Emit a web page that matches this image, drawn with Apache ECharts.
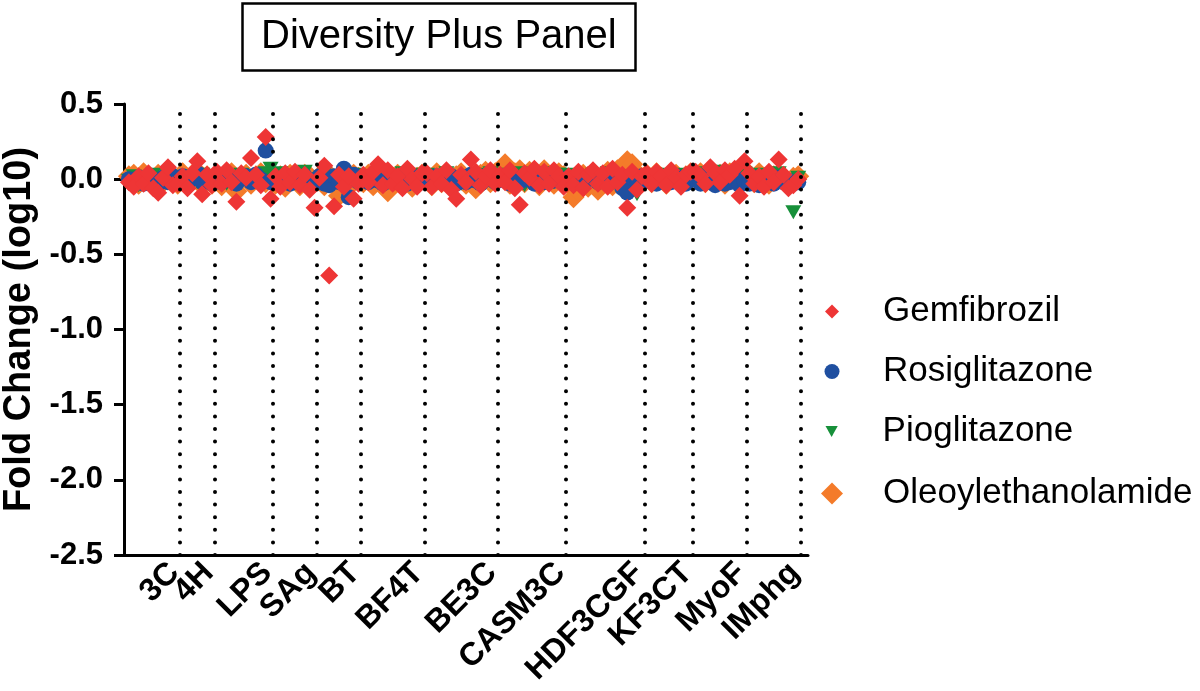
<!DOCTYPE html>
<html>
<head>
<meta charset="utf-8">
<script src="https://cdn.jsdelivr.net/npm/echarts@6/dist/echarts.min.js"></script>
<style>html,body{margin:0;padding:0;background:#fff}#c{width:1200px;height:691px}</style>
</head>
<body>
<div id="c"></div>
<script>
// Panels (systems) and number of readouts per panel
const panels = ['3C','4H','LPS','SAg','BT','BF4T','BE3C','CASM3C','HDF3CGF','KF3CT','MyoF','IMphg'];
const panelCounts = [11, 7, 12, 9, 9, 13, 15, 14, 16, 10, 11, 11];
const yTicks = [0.5, 0.0, -0.5, -1.0, -1.5, -2.0, -2.5];

// Fold change (log10), readouts in panel order
const gemfibrozil = [
  -0.02,-0.05,0.02,-0.03,0.04,-0.06,-0.09,0.01,0.08,-0.04,-0.03,
  0.02,-0.06,0.04,0.12,-0.10,0.03,-0.04,
  0.05,-0.03,0.06,-0.02,-0.15,0.04,0.01,0.14,0.03,-0.04,0.28,-0.13,
  0.02,-0.05,0.04,-0.02,0.05,-0.04,0.03,-0.07,-0.19,
  0.01,0.09,-0.64,-0.18,0.03,-0.05,0.02,-0.13,-0.03,
  0.03,-0.02,0.05,0.10,-0.04,0.06,-0.03,0.02,-0.06,0.07,0.00,-0.05,0.04,
  0.04,-0.05,0.02,-0.03,0.06,-0.07,-0.13,0.03,-0.02,0.13,0.05,-0.04,0.02,0.06,-0.03,
  0.03,-0.02,0.06,-0.06,-0.17,0.04,0.01,0.07,-0.04,0.05,-0.03,0.06,0.02,-0.05,
  0.02,-0.04,0.05,-0.06,0.03,0.06,-0.03,0.04,-0.05,0.07,-0.02,0.03,-0.19,0.05,-0.07,0.02,
  0.04,-0.03,0.05,0.02,-0.04,0.06,0.01,-0.05,0.03,0.05,
  0.05,0.02,-0.03,0.08,0.04,-0.02,0.06,0.03,0.07,-0.11,0.12,
  0.04,-0.03,0.02,-0.05,0.05,-0.02,0.13,0.03,-0.06,-0.04,0.00
];
const rosiglitazone = [
  0.00,-0.02,0.01,-0.03,0.02,-0.01,-0.03,0.01,-0.02,0.02,-0.01,
  0.02,-0.03,0.01,0.04,-0.02,0.01,-0.03,
  0.01,-0.02,0.02,-0.01,-0.03,0.01,0.02,-0.02,0.03,0.00,0.19,-0.02,
  0.00,-0.02,0.01,-0.03,0.02,-0.01,0.02,-0.02,-0.01,
  0.02,-0.03,-0.04,0.02,-0.02,0.07,-0.12,0.03,-0.02,
  0.01,-0.02,0.02,-0.01,-0.03,0.01,0.02,-0.02,0.01,-0.03,0.02,0.00,-0.02,
  0.01,-0.03,0.02,-0.02,0.00,0.02,-0.03,0.01,-0.02,0.03,-0.01,-0.03,0.02,0.00,-0.02,
  0.02,-0.01,-0.03,0.01,-0.02,0.02,0.00,-0.03,0.01,-0.02,0.02,-0.01,0.01,-0.03,
  0.01,-0.02,0.02,-0.03,0.01,0.03,-0.02,0.00,-0.03,0.02,-0.01,-0.06,-0.09,0.01,-0.02,0.02,
  -0.01,0.02,-0.03,0.01,0.00,-0.02,0.02,-0.01,-0.03,0.01,
  0.00,-0.03,0.02,-0.02,-0.04,0.01,-0.03,-0.02,0.02,-0.04,-0.01,
  -0.03,0.01,-0.04,-0.02,0.00,-0.03,0.01,-0.02,-0.01,-0.03,-0.02
];
const pioglitazone = [
  -0.01,0.02,-0.04,0.01,-0.02,0.03,-0.03,0.00,0.02,-0.02,0.01,
  -0.03,0.02,0.00,-0.02,0.03,-0.01,0.02,
  0.00,0.02,-0.03,0.01,-0.02,0.03,0.00,-0.01,0.02,-0.03,0.04,0.07,
  0.02,0.04,-0.02,0.01,-0.03,0.02,0.05,-0.01,0.00,
  -0.02,0.04,0.01,-0.03,0.02,-0.05,0.00,0.03,-0.01,
  0.02,-0.02,0.01,0.03,-0.01,0.02,-0.03,0.00,0.04,-0.02,0.01,0.03,-0.01,
  0.03,0.00,-0.02,0.02,0.04,-0.01,0.01,-0.03,0.02,0.00,0.03,-0.02,0.01,0.04,0.00,
  -0.01,0.03,0.02,-0.02,0.04,-0.04,0.00,0.03,-0.01,0.04,0.02,-0.02,0.03,0.01,
  0.03,-0.01,0.02,-0.04,0.00,0.03,-0.02,0.02,0.04,-0.03,0.01,0.02,-0.05,-0.03,-0.10,0.01,
  0.02,0.00,-0.02,0.03,0.01,-0.01,0.03,0.00,-0.02,0.02,
  0.03,0.01,0.04,-0.01,0.02,0.05,0.00,0.03,-0.02,0.02,0.04,
  0.01,-0.02,0.03,0.00,-0.01,0.02,0.04,-0.03,-0.02,-0.22,0.01
];
const oleoylethanolamide = [
  0.02,0.03,-0.03,0.04,0.01,-0.04,0.03,-0.02,0.05,0.02,-0.03,
  0.04,-0.02,0.03,0.05,-0.04,0.02,-0.03,
  0.03,-0.04,0.02,0.04,-0.08,0.01,0.03,-0.03,0.02,0.04,-0.02,0.03,
  -0.03,0.02,-0.05,0.03,0.01,-0.04,0.03,0.02,-0.02,
  0.02,-0.04,0.03,-0.02,-0.11,0.02,-0.05,0.03,0.01,
  -0.02,0.03,-0.04,0.02,-0.03,-0.08,0.01,0.03,-0.03,0.02,-0.05,0.01,0.03,
  0.02,-0.04,0.04,-0.02,0.03,-0.05,0.02,0.04,-0.03,0.02,-0.06,0.03,0.05,-0.02,0.04,
  0.05,0.10,-0.03,0.04,0.06,-0.02,0.05,0.03,-0.04,0.06,0.02,-0.03,0.04,0.02,
  -0.03,-0.12,-0.08,0.03,-0.05,0.04,-0.07,0.02,0.05,-0.04,0.06,0.08,0.12,0.10,0.04,-0.02,
  0.03,-0.02,0.04,0.01,-0.03,0.02,0.03,-0.01,0.02,0.04,
  0.02,0.04,-0.02,0.05,0.01,0.03,-0.03,0.04,0.02,0.05,0.01,
  0.03,-0.02,0.04,0.01,-0.03,0.02,0.03,0.00,-0.02,0.01,0.02
];

const FONT = 'Liberation Sans, Arial, Helvetica, sans-serif';

// panel boundaries (after last readout of each panel)
const bounds = [];
let acc = 0;
panelCounts.forEach(c => { acc += c; bounds.push(acc + 0.5); });
const LABEL_SHIFT = 1.2; // labels end just left of each boundary line
const labelPos = bounds.map(b => +(b - LABEL_SHIFT).toFixed(2));
const toXY = arr => arr.map((v, i) => [i + 1, v]);

const triDown = 'path://M0,0L10,0L5,9Z';

const chart = echarts.init(document.getElementById('c'), null, {renderer: 'canvas'});
function legendFor(name, icon, w, h, cy) {
  return {
    data: [{name: name, icon: icon}],
    orient: 'vertical',
    left: 832 - w / 2,
    top: cy - 18,
    padding: 0,
    itemWidth: w,
    itemHeight: h,
    selectedMode: false,
    textStyle: {fontFamily: FONT, fontSize: 35, color: '#000', padding: [0, 0, 0, 46 - w / 2]}
  };
}
function xAxisFor(values, showLine) {
  return {
    type: 'value', min: 0, max: 140, position: 'bottom', offset: 0,
    axisLine: {show: showLine, onZero: false, lineStyle: {color: '#000', width: 3}},
    axisTick: {show: false},
    splitLine: {show: false},
    axisLabel: {
      customValues: values,
      showMinLabel: true, showMaxLabel: true, hideOverlap: false,
      rotate: 45, margin: 13,
      fontFamily: FONT, fontSize: 32, fontWeight: 'bold', color: '#000',
      formatter: v => { const i = labelPos.indexOf(v); return i >= 0 ? panels[i] : ''; }
    }
  };
}
chart.setOption({
  animation: false,
  backgroundColor: '#fff',
  title: {
    text: 'Diversity Plus Panel',
    left: 242, top: 3,
    padding: [14, 19, 14, 19],
    borderColor: '#000', borderWidth: 2.5,
    textStyle: {fontFamily: FONT, fontSize: 40, fontWeight: 'normal', color: '#000'}
  },
  legend: [
    legendFor('Gemfibrozil', 'diamond', 14, 14, 312),
    legendFor('Rosiglitazone', 'circle', 15, 15, 372),
    legendFor('Pioglitazone', triDown, 13, 11, 432),
    legendFor('Oleoylethanolamide', 'diamond', 22, 22, 494)
  ],
  grid: {left: 124, right: 392, top: 104, bottom: 136, containLabel: false, outerBoundsMode: 'none'},
  xAxis: [
    xAxisFor(labelPos.filter((_, i) => i % 2 === 0), true),
    xAxisFor(labelPos.filter((_, i) => i % 2 === 1), false)
  ],
  yAxis: {
    type: 'value', min: -2.5, max: 0.5, interval: 0.5,
    name: 'Fold Change (log10)', nameLocation: 'middle', nameGap: 76,
    nameTextStyle: {fontFamily: FONT, fontSize: 38, fontWeight: 'bold', color: '#000'},
    axisLine: {show: true, onZero: false, lineStyle: {color: '#000', width: 3}},
    axisTick: {show: true, length: 10, lineStyle: {color: '#000', width: 3}},
    splitLine: {show: false},
    axisLabel: {
      margin: 21, fontFamily: FONT, fontSize: 31, fontWeight: 'bold', color: '#000',
      formatter: v => v.toFixed(1)
    }
  },
  series: [
    {
      name: 'Oleoylethanolamide', type: 'scatter', symbol: 'diamond', symbolSize: 22,
      itemStyle: {color: '#F47B2A', opacity: 1}, data: toXY(oleoylethanolamide),
      markLine: {
        silent: true, symbol: ['none', 'none'], label: {show: false},
        lineStyle: {color: '#000', width: 4, type: [0, 12.6], cap: 'round'},
        data: bounds.map(b => ({xAxis: b}))
      }
    },
    {
      name: 'Pioglitazone', type: 'scatter', symbol: triDown, symbolSize: [16, 14],
      itemStyle: {color: '#17903A', opacity: 1}, data: toXY(pioglitazone)
    },
    {
      name: 'Rosiglitazone', type: 'scatter', symbol: 'circle', symbolSize: 16,
      itemStyle: {color: '#1F4FA0', opacity: 1}, data: toXY(rosiglitazone)
    },
    {
      name: 'Gemfibrozil', type: 'scatter', symbol: 'diamond', symbolSize: 18,
      itemStyle: {color: '#EE3535', opacity: 1}, data: toXY(gemfibrozil)
    }
  ]
});
</script>
</body>
</html>
